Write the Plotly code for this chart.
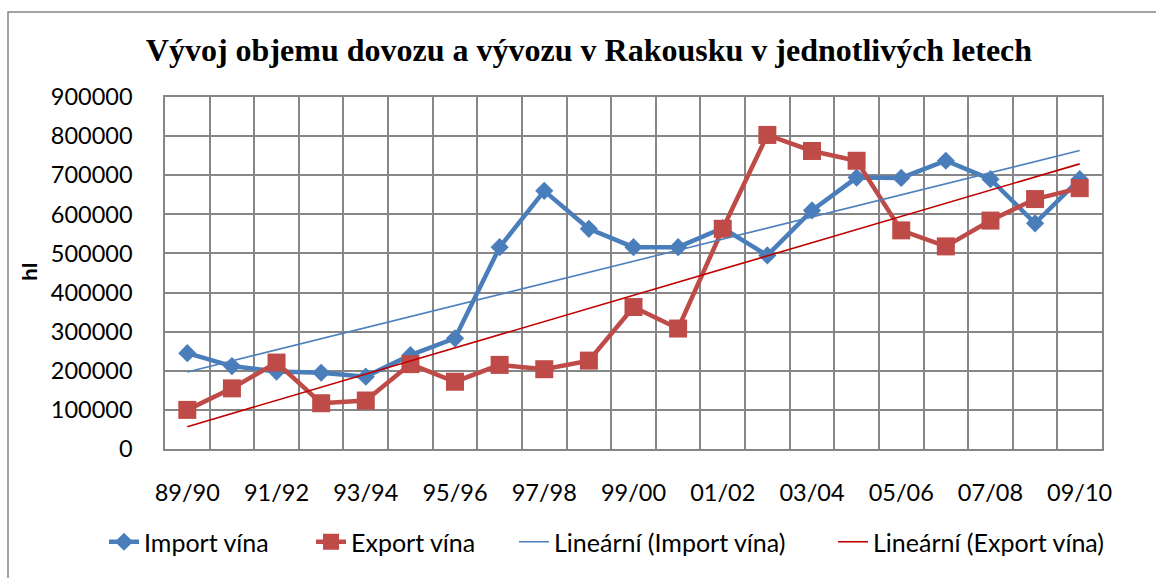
import numpy as np
import plotly.graph_objects as go

# Marketing years
seasons = ["89/90", "90/91", "91/92", "92/93", "93/94", "94/95", "95/96", "96/97",
           "97/98", "98/99", "99/00", "00/01", "01/02", "02/03", "03/04", "04/05",
           "05/06", "06/07", "07/08", "08/09", "09/10"]

# Volumes in hectolitres
import_hl = [245000, 212000, 198000, 195000, 185000, 240000, 283000, 516000,
             660000, 563000, 516000, 516000, 565000, 495000, 610000, 694000,
             693000, 737000, 690000, 577000, 690000]
export_hl = [100000, 155000, 221000, 117000, 124000, 217000, 172000, 215000,
             204000, 226000, 363000, 308000, 563000, 803000, 762000, 737000,
             559000, 518000, 584000, 639000, 667000]

y_ticks = list(range(0, 900001, 100000))

idx = np.arange(len(seasons))
imp_fit = np.polyval(np.polyfit(idx, import_hl, 1), idx)
exp_fit = np.polyval(np.polyfit(idx, export_hl, 1), idx)

BLUE = "#4A7EBB"
RED = "#BE4B48"
GRID = "#868686"
FONT = "Lato"

fig = go.Figure()
fig.add_trace(go.Scatter(
    x=idx, y=import_hl, name="Import vína", mode="lines+markers",
    line=dict(color=BLUE, width=4.5),
    marker=dict(symbol="diamond", size=14, color=BLUE),
    legend="legend",
))
fig.add_trace(go.Scatter(
    x=idx, y=export_hl, name="Export vína", mode="lines+markers",
    line=dict(color=RED, width=4.5),
    marker=dict(symbol="square", size=18, color=RED),
    legend="legend2",
))
fig.add_trace(go.Scatter(
    x=idx, y=imp_fit, name="Lineární (Import vína)", mode="lines",
    line=dict(color="#4F81BD", width=1.6),
    legend="legend3",
))
fig.add_trace(go.Scatter(
    x=idx, y=exp_fit, name="Lineární (Export vína)", mode="lines",
    line=dict(color="#C00000", width=1.6),
    legend="legend4",
))


def legend_at(px):
    # one single-entry legend, left edge at px (container pixels)
    return dict(
        orientation="h", xref="container", yref="container",
        x=px / 1156, xanchor="left", y=1 - 542 / 578, yanchor="middle",
        font=dict(family=FONT, size=25), itemwidth=30,
        bgcolor="rgba(0,0,0,0)",
    )


fig.update_layout(
    width=1156, height=578,
    margin=dict(l=165, r=54, t=97, b=129),
    paper_bgcolor="white", plot_bgcolor="white",
    font=dict(family=FONT, size=23.5, color="black"),
    title=dict(
        text="<b>Vývoj objemu dovozu a vývozu v Rakousku v jednotlivých letech</b>",
        font=dict(family="Liberation Serif", size=32, color="black"),
        x=0.5095, xanchor="center", xref="container",
        y=1 - 50 / 578, yanchor="middle", yref="container",
    ),
    legend=legend_at(104),
    legend2=legend_at(311),
    legend3=legend_at(514),
    legend4=legend_at(833),
    showlegend=True,
)

fig.update_xaxes(
    range=[-0.5, len(seasons) - 0.5],
    tickmode="array", tickvals=idx[::2], ticktext=seasons[::2],
    showgrid=False, zeroline=False, ticks="",
    showline=True, linecolor=GRID, linewidth=1.5, mirror=True,
    ticklabelstandoff=22,
    minor=dict(tickmode="linear", tick0=-0.5, dtick=1, showgrid=True,
               gridcolor=GRID, gridwidth=1.5, ticks=""),
)
fig.update_yaxes(
    range=[0, 900000], tickmode="array", tickvals=y_ticks,
    ticktext=[str(v) for v in y_ticks],
    showgrid=True, gridcolor=GRID, gridwidth=1.5, zeroline=False, ticks="",
    showline=True, linecolor=GRID, linewidth=1.5, mirror=True,
    ticklabelstandoff=26,
)

fig.add_annotation(
    text="<b>hl</b>", textangle=-90, showarrow=False,
    xref="paper", yref="paper", x=(29 - 165) / 937, y=(449 - 272) / 352,
    xanchor="center", yanchor="middle",
    font=dict(family="Liberation Sans", size=21, color="black"),
)

# Outer chart frame
fig.add_shape(
    type="rect", xref="paper", yref="paper",
    x0=(8 - 165) / 937, x1=(1160 - 165) / 937,
    y0=(449 - 582) / 352, y1=(449 - 12) / 352,
    line=dict(color=GRID, width=1.5), fillcolor="rgba(0,0,0,0)", layer="below",
)

fig.write_html("out.html")
